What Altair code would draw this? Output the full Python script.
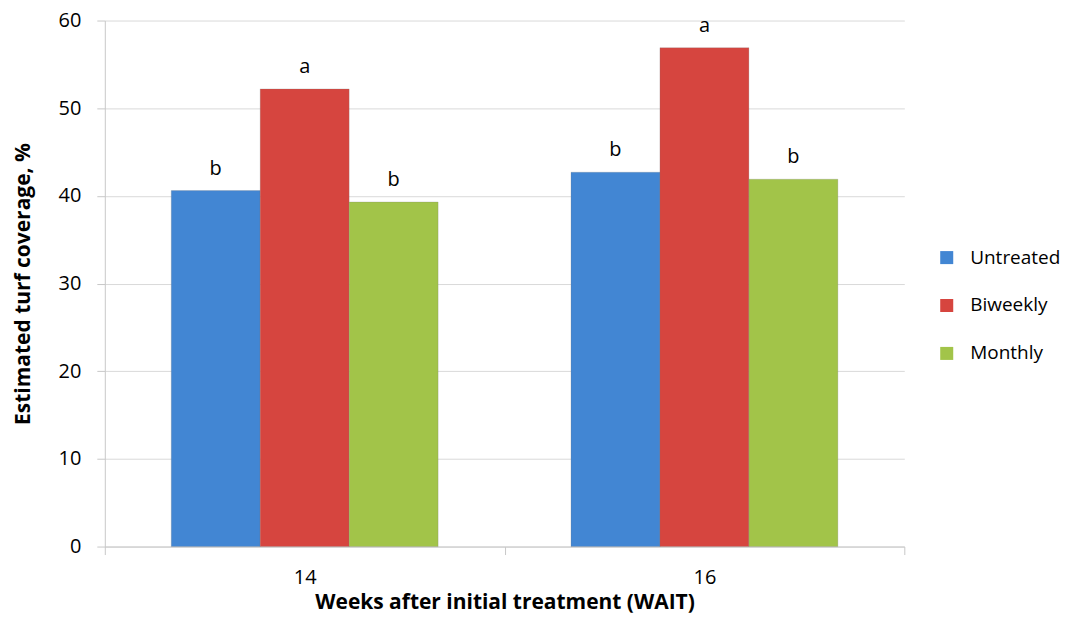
import altair as alt
import pandas as pd

weeks = ["14", "14", "14", "16", "16", "16"]
treatments = ["Untreated", "Biweekly", "Monthly", "Untreated", "Biweekly", "Monthly"]
coverage = [40.6, 52.2, 39.3, 42.7, 56.9, 41.9]
letters = ["b", "a", "b", "b", "a", "b"]

order = ["Untreated", "Biweekly", "Monthly"]
colors = ["#4286d3", "#d6453f", "#a2c449"]

df = pd.DataFrame({"week": weeks, "treatment": treatments, "coverage": coverage, "letter": letters})

FONT = "Open Sans"

x = alt.X("week:N", title="Weeks after initial treatment (WAIT)",
          scale=alt.Scale(paddingInner=0, paddingOuter=0),
          axis=alt.Axis(labelAngle=0, tickBand="extent", labelFontSize=20, titleFontSize=21,
                        titleFontWeight="bold", labelColor="#000", titleColor="#000",
                        domainColor="#c8c8c8", tickColor="#c8c8c8", tickSize=8,
                        labelPadding=13, titlePadding=4, labelFont=FONT, titleFont=FONT))
xo = alt.XOffset("treatment:N", sort=order, scale=alt.Scale(paddingInner=0, paddingOuter=0.747))
y = alt.Y("coverage:Q", title="Estimated turf coverage, %",
          scale=alt.Scale(domain=[0, 60]),
          axis=alt.Axis(values=[0, 10, 20, 30, 40, 50, 60], labelFontSize=20, titleFontSize=21,
                        titleFontWeight="bold", labelColor="#000", titleColor="#000",
                        domainColor="#c8c8c8", tickColor="#c8c8c8", gridColor="#d9d9d9",
                        tickSize=8, labelPadding=16, titlePadding=25, labelFont=FONT, titleFont=FONT))

bars = alt.Chart(df).mark_bar(stroke="#777777", strokeWidth=0.6, strokeOpacity=0.4).encode(
    x=x, xOffset=xo, y=y,
    color=alt.Color("treatment:N", sort=order,
                    scale=alt.Scale(domain=order, range=colors),
                    legend=alt.Legend(title=None, orient="none", legendX=834, legendY=228,
                                      symbolType="square", symbolSize=170, symbolStrokeWidth=0,
                                      labelFontSize=19, labelFont=FONT, labelColor="#000",
                                      rowPadding=28, labelOffset=14)),
)

text = alt.Chart(df).mark_text(dy=-22, fontSize=20, font=FONT, color="#000").encode(
    x=x, xOffset=xo, y=y, text="letter:N"
)

chart = alt.layer(bars, text).properties(
    width=801, height=527,
    padding={"left": 12, "top": 10, "right": 5, "bottom": 5},
).configure_view(stroke=None)

chart.save("out.html", embed_options={"renderer": "svg", "actions": False})
